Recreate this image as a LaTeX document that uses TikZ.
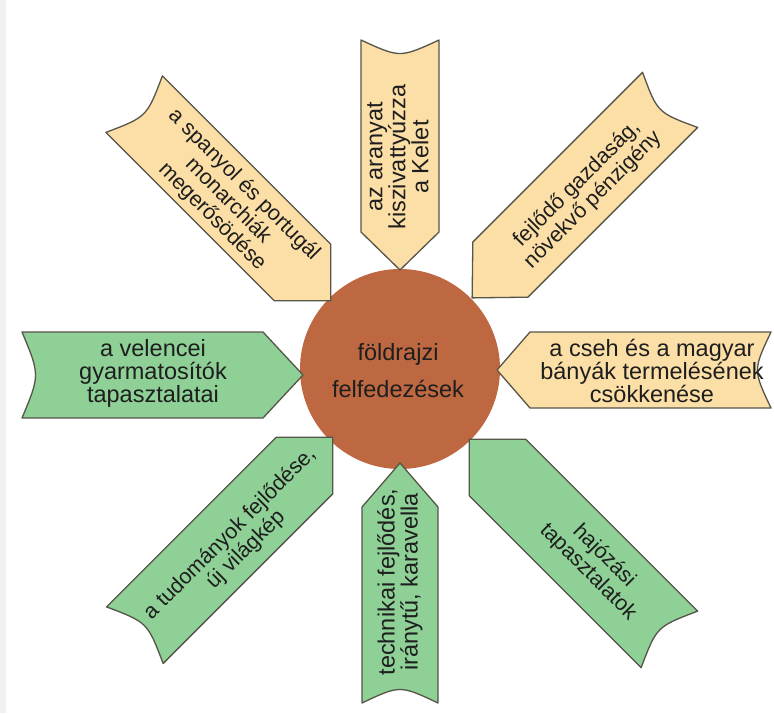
\documentclass[tikz,border=0pt]{standalone}
\usepackage{fontspec}
\setmainfont{Liberation Sans}
\definecolor{yel}{HTML}{FCDFA6}
\definecolor{grn}{HTML}{8ED096}
\definecolor{edgec}{HTML}{55554A}
\definecolor{brownc}{HTML}{BE6841}
\definecolor{txtc}{HTML}{1E1E1E}
\definecolor{stripc}{HTML}{F1F1F1}
% #1 angle, #2 tip distance, #3 tail distance, #4 width, #5 tip length, #6 style, #7 origin
\newcommand\petalshape[7]{%
  \begin{scope}[shift={#7}, rotate=#1]
    \path[#6] (#2,0) -- ({#2+#5},{#4/2}) -- (#3,{#4/2})
      .. controls ({#3-18},0) .. (#3,{-#4/2}) -- ({#2+#5},{-#4/2}) -- cycle;
  \end{scope}}
\begin{document}
\begin{tikzpicture}[x=1pt,y=-1pt,
  yelbox/.style={fill=yel,draw=edgec,line width=1.3pt,line join=round},
  grnbox/.style={fill=grn,draw=edgec,line width=1.3pt,line join=round},
  lbl/.style={text=txtc,align=center,font=\fontsize{23.5}{23}\selectfont,inner sep=0pt},
  dlbl/.style={text=txtc,align=center,font=\fontsize{21.5}{22.5}\selectfont,inner sep=0pt},
  hub/.style={circle,fill=brownc,minimum size=200pt,inner sep=0pt}]
\useasboundingbox (0,0) rectangle (774,713);
\fill[stripc] (0,0) rectangle (6,713);
% centre
\node[hub] (hub) at (400,369) {};
% arrows
\petalshape{90}{100}{330}{78}{38}{yelbox}{(400,370)}
\petalshape{45}{102}{382}{78}{40}{yelbox}{(400,370)}
\petalshape{135}{98}{376}{80}{40}{yelbox}{(400,370)}
\petalshape{0}{97}{371}{76}{33}{yelbox}{(400,370)}
\petalshape{180}{97}{378}{86}{40}{grnbox}{(400,375)}
\petalshape{-135}{95}{375}{80}{40}{grnbox}{(400,370)}
\petalshape{-90}{93}{333}{76}{44}{grnbox}{(400,370)}
\petalshape{-45}{98}{381}{80}{40}{grnbox}{(400,370)}
% centre text
\node[text=txtc,align=center,font=\fontsize{23.5}{37}\selectfont,inner sep=0pt] (hubtext) at (398,371) {földrajzi\\felfedezések};
% labels
\node[lbl,rotate=90] (tTop) at (398,157) {az aranyat\\kiszivattyúzza\\a Kelet};
\node[dlbl,rotate=45] (tUR) at (585,192) {fejlődő gazdaság,\\növekvő pénzigény};
\node[dlbl,rotate=-45] (tUL) at (228,201) {a spanyol és portugál\\monarchiák\\megerősödése};
\node[lbl] (tRight) at (652,371) {a cseh és a magyar\\bányák termelésének\\csökkenése};
\node[lbl] (tLeft) at (153,373) {a velencei\\gyarmatosítók\\tapasztalatai};
\node[dlbl,rotate=45] (tLL) at (238,542) {a tudományok fejlődése,\\új világkép};
\node[lbl,rotate=90] (tBottom) at (400,582) {technikai fejlődés,\\iránytű, karavella};
\node[dlbl,rotate=-45] (tLR) at (596,564) {hajózási\\tapasztalatok};
\end{tikzpicture}
\end{document}
